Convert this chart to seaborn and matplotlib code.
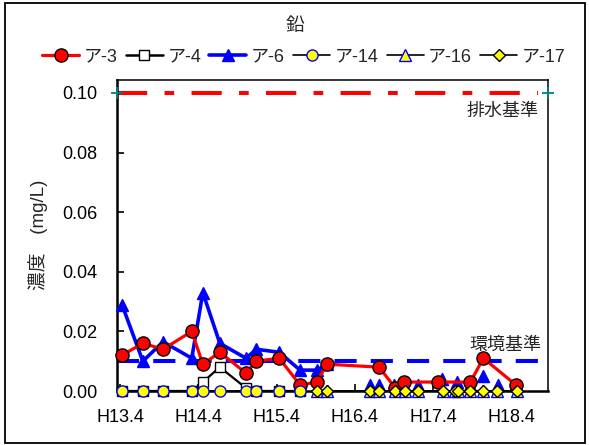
import matplotlib
matplotlib.use("Agg")
import matplotlib.pyplot as plt
from matplotlib.lines import Line2D
from matplotlib.patches import Rectangle
import seaborn as sns
import numpy as np

# Sampling times in months counted from H13.4, concentrations in mg/L
a3_month = [0.3, 3.5, 6.6, 11.0, 12.7, 15.3, 19.3, 20.9, 24.4, 27.6, 30.2, 31.7,
            39.7, 42.2, 43.6, 48.8, 53.7, 55.7, 60.7]
a3_value = [0.012, 0.016, 0.014, 0.020, 0.009, 0.013, 0.006, 0.010, 0.011, 0.002,
            0.003, 0.009, 0.008, 0.001, 0.003, 0.003, 0.003, 0.011, 0.002]

a4_month = [0.3, 3.5, 6.6, 11.0, 12.7, 15.3, 19.3, 20.9, 24.4, 27.6]
a4_value = [0.000, 0.000, 0.000, 0.000, 0.003, 0.008, 0.001, 0.000, 0.000, 0.000]

a6_month = [0.3, 3.5, 6.6, 11.0, 12.7, 15.3, 19.3, 20.9, 24.4, 27.6, 30.2, 31.7]
a6_value = [0.029, 0.010, 0.0165, 0.011, 0.033, 0.016, 0.011, 0.014, 0.013, 0.007,
            0.007, 0.009]
a6_late_month = [38.3, 39.7, 42.0, 43.6, 45.6, 49.4, 51.7, 53.7, 55.7, 58.0, 60.7]
a6_late_value = [0.002, 0.002, 0.002, 0.002, 0.002, 0.004, 0.003, 0.002, 0.005,
                 0.002, 0.002]

a14_month = [0.3, 3.5, 6.6, 11.0, 12.7, 15.3, 19.3, 20.9, 24.4, 27.6]
a14_value = [0.0] * 10

a16_month = [30.2, 31.7, 38.3, 39.7, 42.2, 43.7, 45.6, 49.5, 51.4, 51.8, 53.7, 55.7,
             57.8, 60.9]
a16_value = [0.0] * 14

a17_month = [30.2, 31.7, 38.3, 39.7, 42.2, 43.7, 45.6, 49.5, 51.4, 51.8, 53.7, 55.7,
             57.8, 60.9]
a17_value = [0.0] * 14

tick_months = [0, 12, 24, 36, 48, 60]
tick_labels = ["H13.4", "H14.4", "H15.4", "H16.4", "H17.4", "H18.4"]

effluent_std = 0.10
env_std = 0.01

sns.set_theme(style="white")
plt.rcParams["font.family"] = ["Liberation Sans", "Noto Sans CJK JP"]
plt.rcParams["axes.unicode_minus"] = False

RED = "#FF0000"
BLUE = "#0000FF"
YEL = "#FFFF00"

fig = plt.figure(figsize=(5.89, 4.45), dpi=100)
ax = fig.add_axes([117 / 589, 1 - 391 / 445, (548 - 117) / 589, (391 - 79.5) / 445])

xmin, xmax = -0.46, 65.6
ax.set_xlim(xmin, xmax)
ax.set_ylim(0, 0.1045)

# reference lines
ax.plot([xmin, xmax - 1.5], [effluent_std] * 2, color=RED, lw=2.9,
        dashes=(7.5, 4.3, 2.4, 4.3), zorder=2, solid_capstyle="butt",
        dash_capstyle="butt")
ax.plot([xmin, xmax], [effluent_std] * 2, ls="none", marker="+", ms=9,
        mew=1.3, color="#008080", clip_on=False, zorder=3)
ax.plot([xmin, xmax], [env_std] * 2, color=BLUE, lw=2.9, dashes=(5.5, 3.5),
        zorder=1.5, dash_capstyle="butt")

common = dict(ax=ax, estimator=None, sort=False, clip_on=False)

sns.lineplot(x=a6_month, y=a6_value, color=BLUE, lw=2.6, marker="^", ms=9,
             markerfacecolor=BLUE, markeredgecolor=BLUE, markeredgewidth=1,
             zorder=3, **common)
sns.scatterplot(x=a6_late_month, y=a6_late_value, ax=ax, color=BLUE, marker="^",
                s=75, edgecolor=BLUE, linewidth=1, zorder=3, clip_on=False)
sns.lineplot(x=a4_month, y=a4_value, color="black", lw=1.6, marker="s", ms=7,
             markerfacecolor="white", markeredgecolor="black", markeredgewidth=1,
             zorder=3.5, **common)
sns.lineplot(x=a3_month, y=a3_value, color=RED, lw=2.3, marker="o", ms=9.5,
             markerfacecolor=RED, markeredgecolor="black", markeredgewidth=1,
             zorder=4, **common)
sns.lineplot(x=a14_month, y=a14_value, color="black", lw=1.2, marker="o", ms=8,
             markerfacecolor=YEL, markeredgecolor=BLUE, markeredgewidth=1,
             zorder=5, **common)
sns.lineplot(x=a16_month, y=a16_value, color="black", lw=1.2, marker="^", ms=8,
             markerfacecolor=YEL, markeredgecolor=BLUE, markeredgewidth=1,
             zorder=5, **common)
sns.lineplot(x=a17_month, y=a17_value, color="black", lw=1.2, marker="D", ms=6.5,
             markerfacecolor=YEL, markeredgecolor="black", markeredgewidth=1,
             zorder=6, **common)

ax.text(58.6, 0.0967, "排水基準", fontsize=13, ha="center", va="top")
ax.text(59.0, 0.0125, "環境基準", fontsize=13, ha="center", va="bottom")

ax.set_xticks(tick_months)
ax.set_xticklabels(tick_labels)
ax.set_yticks(np.arange(0, 0.101, 0.02))
ax.set_yticklabels([f"{v:.2f}" for v in np.arange(0, 0.101, 0.02)])
ax.tick_params(axis="both", direction="in", length=5, width=1.2, labelsize=13,
               color="black", labelcolor="black", bottom=True, left=True)
ax.tick_params(axis="y", pad=14)
ax.tick_params(axis="x", pad=13)
ax.set_xlabel("")
ax.set_ylabel("濃度\u3000(mg/L)", fontsize=13.5, labelpad=10)

for side in ["left", "bottom"]:
    ax.spines[side].set_color("black")
    ax.spines[side].set_linewidth(1.8)
for side in ["right", "top"]:
    ax.spines[side].set_color("black")
    ax.spines[side].set_linewidth(1.1)

fig.text(0.5, 1 - 27 / 445, "鉛", fontsize=13.5, ha="center", va="center")

handles = [
    Line2D([], [], color=RED, lw=2.3, marker="o", ms=9.5, mfc=RED, mec="black"),
    Line2D([], [], color="black", lw=1.8, marker="s", ms=7, mfc="white", mec="black"),
    Line2D([], [], color=BLUE, lw=2.6, marker="^", ms=9, mfc=BLUE, mec=BLUE),
    Line2D([], [], color="black", lw=1.2, marker="o", ms=8, mfc=YEL, mec=BLUE),
    Line2D([], [], color="black", lw=1.2, marker="^", ms=8, mfc=YEL, mec=BLUE),
    Line2D([], [], color="black", lw=1.2, marker="D", ms=6.5, mfc=YEL, mec="black"),
]
names = ["ア-3", "ア-4", "ア-6", "ア-14", "ア-16", "ア-17"]
fig.legend(handles, names, loc="center", bbox_to_anchor=(0.516, 1 - 57 / 445),
           ncol=6, frameon=False, fontsize=13, handlelength=2.05,
           handletextpad=0.25, columnspacing=0.45, borderaxespad=0)

fig.patches.append(Rectangle((5 / 589, 2 / 445), 580 / 589, 440 / 445,
                             transform=fig.transFigure, fill=False, lw=1.3,
                             ec="black"))

fig.savefig("out.png", dpi=100)
